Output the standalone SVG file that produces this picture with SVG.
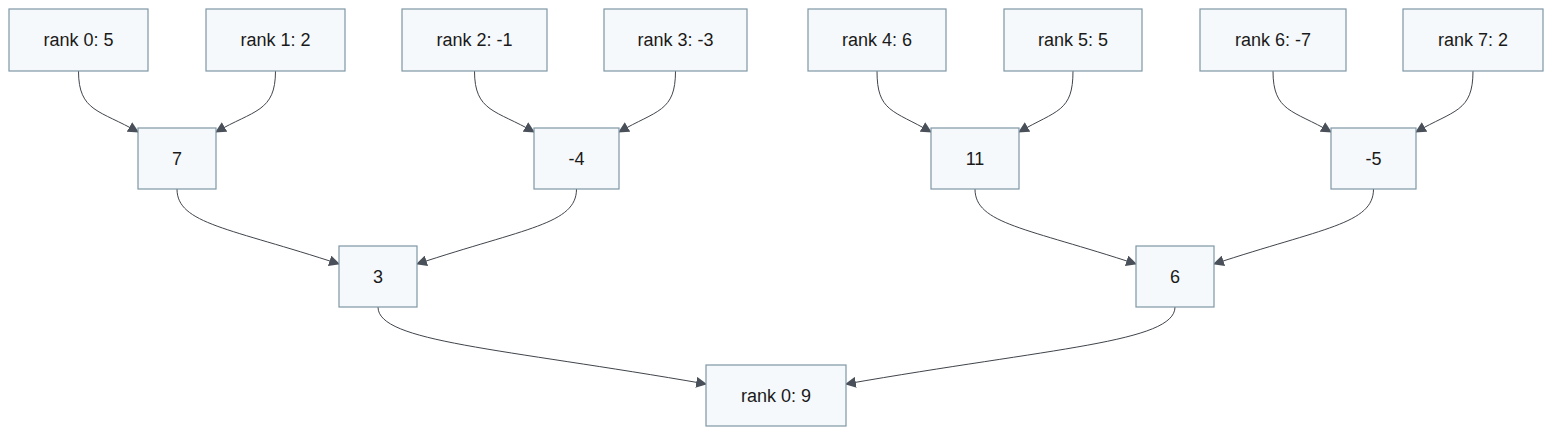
<svg xmlns="http://www.w3.org/2000/svg" width="1568" height="442" viewBox="0 0 1568 442">
<style>
.n rect{fill:#f6f9fb;stroke:#7f97a5;stroke-width:1.2}
.n text{font-family:"Liberation Sans",Arial,sans-serif;font-size:18px;fill:#1a1a1a;text-anchor:middle;dominant-baseline:central}
.e path{fill:none;stroke:#3f444b;stroke-width:1;marker-end:url(#ah)}
</style>
<defs>
<marker id="ah" viewBox="0 0 10 10" refX="9" refY="5" markerWidth="11" markerHeight="11" markerUnits="userSpaceOnUse" orient="auto">
<path d="M0,0 L10,5 L0,10 z" fill="#4a5059"/>
</marker>
</defs>
<rect width="1568" height="442" fill="#ffffff"/>
<g id="connectors" class="e">
<path d="M78.5,71 C78.5,112 100,110 138,132"/>
<path d="M275.5,71 C275.5,112 254,110 216,132"/>
<path d="M474.5,71 C474.5,112 496,110 534,132"/>
<path d="M675.5,71 C675.5,112 657,110 619,132"/>
<path d="M877,71 C877,112 893,110 931,132"/>
<path d="M1073,71 C1073,112 1057,110 1019,132"/>
<path d="M1273,71 C1273,112 1293,110 1331,132"/>
<path d="M1473,71 C1473,112 1454,110 1416,132"/>
<path d="M177,189 C177,224 230,228 339,264"/>
<path d="M576.5,189 C576.5,224 526,228 417,264"/>
<path d="M975,189 C975,224 1027,228 1136,264"/>
<path d="M1373.5,189 C1373.5,224 1323,228 1214,264"/>
<path d="M378,307 C378,342 500,348 706,384"/>
<path d="M1175,307 C1175,342 1052,348 846,384"/>
</g>
<g id="n0" class="n"><rect x="9" y="9" width="139" height="62"/><text x="78.5" y="40">rank 0: 5</text></g>
<g id="n1" class="n"><rect x="206" y="9" width="139" height="62"/><text x="275.5" y="40">rank 1: 2</text></g>
<g id="n2" class="n"><rect x="402" y="9" width="145" height="62"/><text x="474.5" y="40">rank 2: -1</text></g>
<g id="n3" class="n"><rect x="604" y="9" width="143" height="62"/><text x="675.5" y="40">rank 3: -3</text></g>
<g id="n4" class="n"><rect x="808" y="9" width="138" height="62"/><text x="877" y="40">rank 4: 6</text></g>
<g id="n5" class="n"><rect x="1004" y="9" width="138" height="62"/><text x="1073" y="40">rank 5: 5</text></g>
<g id="n6" class="n"><rect x="1200" y="9" width="146" height="62"/><text x="1273" y="40">rank 6: -7</text></g>
<g id="n7" class="n"><rect x="1403" y="9" width="140" height="62"/><text x="1473" y="40">rank 7: 2</text></g>
<g id="s01" class="n"><rect x="138" y="128" width="78" height="61"/><text x="177" y="158.5">7</text></g>
<g id="s23" class="n"><rect x="534" y="128" width="85" height="61"/><text x="576.5" y="158.5">-4</text></g>
<g id="s45" class="n"><rect x="931" y="128" width="88" height="61"/><text x="975" y="158.5">11</text></g>
<g id="s67" class="n"><rect x="1331" y="128" width="85" height="61"/><text x="1373.5" y="158.5">-5</text></g>
<g id="s03" class="n"><rect x="339" y="246" width="78" height="61"/><text x="378" y="276.5">3</text></g>
<g id="s47" class="n"><rect x="1136" y="246" width="78" height="61"/><text x="1175" y="276.5">6</text></g>
<g id="root" class="n"><rect x="706" y="365" width="140" height="61"/><text x="776" y="395.5">rank 0: 9</text></g>
</svg>
